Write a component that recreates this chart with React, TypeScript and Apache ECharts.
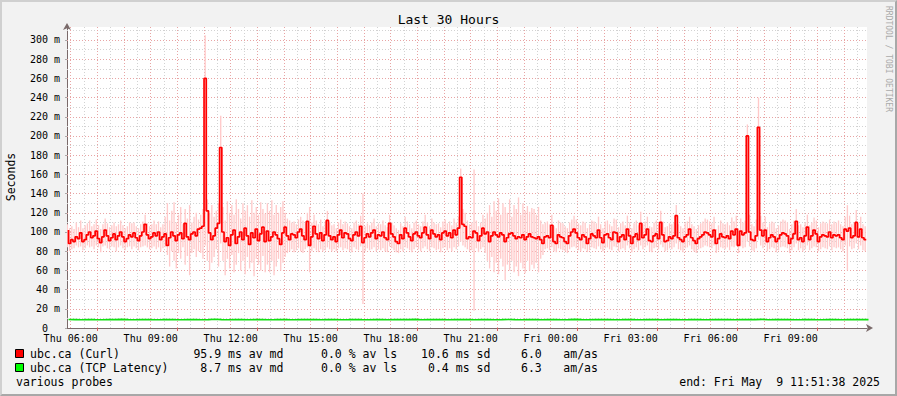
import React, { useEffect, useRef } from "react";
import * as echarts from "echarts";

// ---- time frame (hours since Thu 00:00) ----
const START_HOUR = 5 + 51 / 60 + 38 / 3600; // Thu 05:51:38
const SPAN_HOURS = 30;
const FIRST_SAMPLE_HOUR = 5 + 55 / 60; // Thu 05:55
const STEP_HOURS = 5 / 60;
const TCP_STEP_HOURS = 15 / 60;

// ---- data (milliseconds) ----
const curlMedian = [
  102, 88, 92, 90, 95, 93, 99, 90, 92, 97, 100, 94, 96, 101, 93, 89, 95, 102, 96, 91, 94, 98, 92, 96, 100, 95, 90, 93, 97, 95,
  99, 94, 91, 96, 100, 108, 97, 93, 95, 99, 96, 100, 92, 95, 98, 86, 94, 100, 96, 91, 97, 99, 93, 109, 95, 92, 98, 100, 96, 103,
  104, 106, 260, 122, 99, 92, 96, 104, 109, 188, 100, 90, 94, 86, 97, 102, 88, 95, 100, 92, 104, 96, 87, 99, 94, 103, 91, 98, 105, 90,
  101, 91, 95, 100, 97, 93, 87, 99, 105, 96, 92, 98, 97, 94, 100, 103, 96, 92, 111, 86, 95, 106, 98, 93, 99, 91, 97, 112, 96, 92,
  95, 90, 97, 102, 94, 99, 98, 93, 91, 97, 100, 96, 106, 89, 94, 98, 95, 99, 102, 93, 97, 96, 100, 94, 92, 109, 98, 95, 90, 88,
  97, 93, 104, 99, 95, 91, 98, 100, 96, 94, 99, 105, 97, 93, 102, 98, 95, 97, 92, 99, 101, 96, 99, 94, 102, 97, 104, 157, 108, 106,
  93, 95, 94, 101, 99, 91, 96, 104, 98, 100, 90, 96, 100, 97, 95, 99, 97, 90, 94, 98, 99, 96, 93, 95, 94, 97, 92, 95, 98, 95,
  94, 93, 95, 92, 88, 95, 96, 94, 107, 90, 88, 97, 95, 94, 90, 88, 96, 100, 103, 99, 94, 92, 97, 95, 88, 93, 98, 96, 94, 102,
  94, 89, 97, 98, 94, 92, 100, 99, 90, 95, 97, 92, 103, 96, 88, 95, 98, 92, 109, 94, 97, 103, 91, 90, 96, 98, 93, 110, 97, 90,
  91, 95, 93, 96, 117, 94, 92, 90, 95, 97, 103, 94, 91, 88, 93, 95, 97, 100, 99, 97, 95, 102, 88, 93, 98, 95, 94, 96, 93, 101,
  97, 103, 86, 101, 97, 99, 200, 100, 92, 91, 96, 209, 102, 96, 102, 90, 94, 97, 95, 90, 93, 97, 99, 98, 96, 88, 93, 98, 111, 92,
  94, 90, 96, 105, 92, 96, 102, 98, 90, 95, 97, 96, 95, 100, 94, 97, 96, 97, 94, 92, 103, 101, 104, 94, 96, 110, 95, 103, 94, 92,
];

const curlSmokeLow = [
  84, 80, 82, 83, 86, 84, 85, 81, 83, 86, 84, 85, 82, 86, 84, 79, 85, 86, 83, 82, 85, 84, 80, 84, 86, 83, 81, 84, 85, 82,
  85, 83, 81, 84, 85, 86, 84, 82, 83, 85, 82, 84, 80, 83, 84, 76, 64, 80, 70, 62, 78, 72, 84, 66, 75, 55, 78, 82, 74, 80,
  78, 72, 86, 70, 60, 68, 74, 82, 64, 88, 70, 55, 72, 62, 76, 58, 66, 78, 60, 70, 56, 74, 62, 68, 54, 72, 66, 60, 75, 58,
  66, 58, 70, 55, 64, 72, 60, 68, 74, 78, 80, 82, 79, 81, 83, 80, 78, 82, 84, 58, 80, 83, 81, 79, 82, 80, 81, 84, 82, 80,
  82, 80, 83, 84, 81, 83, 82, 80, 79, 84, 82, 81, 85, 25, 80, 83, 81, 82, 84, 80, 82, 81, 83, 80, 79, 85, 83, 81, 79, 78,
  82, 80, 84, 83, 81, 79, 82, 84, 82, 80, 83, 85, 82, 80, 84, 83, 81, 82, 79, 83, 84, 81, 83, 80, 84, 82, 85, 90, 86, 84,
  82, 80, 81, 18, 83, 79, 82, 84, 78, 70, 62, 74, 58, 68, 56, 72, 64, 50, 66, 60, 70, 58, 64, 54, 68, 62, 57, 70, 60, 66,
  62, 68, 58, 72, 76, 82, 83, 81, 84, 80, 79, 83, 82, 81, 80, 78, 82, 84, 85, 83, 81, 80, 83, 82, 79, 81, 84, 83, 82, 85,
  82, 80, 83, 84, 82, 81, 85, 84, 80, 82, 83, 81, 86, 83, 79, 82, 84, 81, 86, 82, 84, 86, 80, 79, 83, 84, 82, 87, 84, 80,
  81, 83, 82, 84, 88, 82, 81, 79, 83, 84, 86, 82, 80, 78, 82, 83, 84, 86, 85, 84, 83, 86, 78, 81, 84, 83, 82, 84, 81, 85,
  84, 86, 78, 85, 83, 84, 90, 85, 81, 80, 83, 92, 86, 83, 86, 80, 82, 84, 83, 79, 81, 84, 85, 84, 83, 78, 81, 84, 88, 81,
  83, 80, 82, 86, 81, 83, 85, 84, 80, 82, 84, 83, 82, 85, 81, 84, 83, 84, 82, 80, 86, 60, 85, 82, 83, 88, 82, 86, 81, 80,
];

const curlSmokeHigh = [
  108, 104, 106, 103, 110, 105, 112, 104, 107, 109, 112, 106, 108, 113, 107, 103, 108, 114, 109, 105, 107, 110, 106, 108, 112, 107, 104, 106, 110, 109,
  110, 106, 104, 108, 111, 118, 109, 106, 108, 112, 108, 111, 105, 108, 116, 130, 112, 122, 131, 110, 118, 126, 108, 124, 114, 128, 110, 116, 120, 113,
  118, 124, 305, 134, 120, 128, 116, 122, 130, 221, 126, 112, 132, 120, 128, 118, 134, 124, 114, 130, 122, 128, 116, 133, 120, 126, 118, 131, 124, 119,
  130, 122, 133, 118, 128, 120, 126, 132, 120, 114, 112, 110, 111, 108, 113, 116, 112, 109, 120, 126, 110, 118, 112, 108, 113, 106, 111, 122, 110, 107,
  108, 104, 110, 113, 108, 111, 109, 106, 104, 110, 112, 108, 117, 140, 106, 109, 107, 110, 114, 106, 109, 108, 112, 107, 105, 118, 110, 107, 104, 102,
  109, 106, 116, 111, 108, 104, 110, 112, 108, 106, 111, 118, 110, 106, 114, 110, 108, 109, 105, 111, 113, 109, 111, 107, 114, 110, 116, 166, 124, 120,
  112, 108, 110, 165, 112, 106, 110, 118, 114, 120, 128, 116, 132, 122, 135, 118, 130, 126, 120, 134, 116, 128, 124, 136, 118, 130, 122, 127, 121, 125,
  124, 118, 126, 112, 108, 110, 111, 108, 118, 106, 104, 112, 110, 109, 106, 104, 110, 113, 117, 113, 109, 107, 111, 110, 104, 108, 112, 111, 109, 116,
  108, 104, 111, 112, 108, 106, 114, 113, 105, 109, 111, 107, 117, 110, 104, 109, 112, 107, 121, 108, 111, 116, 106, 105, 110, 112, 108, 122, 111, 105,
  106, 109, 108, 110, 128, 108, 106, 104, 109, 111, 116, 108, 106, 103, 107, 109, 111, 114, 113, 111, 109, 116, 103, 107, 112, 109, 108, 110, 107, 115,
  111, 117, 104, 114, 110, 112, 212, 118, 108, 106, 113, 240, 117, 110, 116, 105, 109, 111, 110, 104, 107, 111, 113, 112, 110, 103, 108, 112, 124, 107,
  108, 105, 110, 118, 107, 110, 115, 112, 105, 109, 111, 110, 109, 113, 108, 111, 110, 112, 108, 106, 116, 128, 117, 108, 110, 123, 109, 116, 108, 106,
];

const tcpLatency = [
  8.8, 8.7, 8.6, 8.9, 8.7, 8.6, 8.8, 8.7, 9.0, 8.7, 8.6, 8.7, 8.8, 8.6, 8.7, 8.9, 8.7, 8.6, 8.8, 8.7,
  8.6, 8.7, 9.1, 8.7, 8.6, 8.8, 8.7, 8.6, 8.7, 8.8, 8.6, 8.7, 8.9, 8.7, 8.6, 8.7, 8.8, 8.7, 8.6, 8.7,
  8.8, 8.6, 8.7, 8.9, 8.7, 8.6, 8.8, 8.7, 8.6, 8.7, 8.8, 8.7, 9.0, 8.6, 8.7, 8.8, 8.7, 8.6, 8.7, 8.8,
  8.7, 8.6, 8.8, 8.7, 8.6, 8.7, 8.9, 8.7, 8.6, 8.8, 8.7, 8.6, 8.7, 8.8, 8.6, 8.7, 9.0, 8.7, 8.6, 8.7,
  8.8, 8.7, 8.6, 8.7, 8.9, 8.7, 8.6, 8.8, 8.7, 8.6, 8.7, 8.8, 8.6, 8.7, 8.9, 8.7, 8.6, 8.7, 8.8, 8.7,
  8.6, 8.7, 8.8, 8.7, 9.0, 8.6, 8.7, 8.8, 8.7, 8.6, 8.7, 8.9, 8.7, 8.6, 8.8, 8.7, 8.6, 8.7, 8.8, 8.7, 8.7,
];

// ---- axes / grid ----
const Y_MAX = 313.5;
const xLabelHours = [6, 9, 12, 15, 18, 21, 24, 27, 30, 33];
const xLabelTexts = ["Thu 06:00", "Thu 09:00", "Thu 12:00", "Thu 15:00", "Thu 18:00", "Thu 21:00", "Fri 00:00", "Fri 03:00", "Fri 06:00", "Fri 09:00"];
const xTickHours = [7, 10, 13, 16, 19, 22, 25, 28, 31, 34];
const vGridMajor = [6, 7, 8, 9, 10, 11, 12, 13, 14, 15, 16, 17, 18, 19, 20, 21, 22, 23, 24, 25, 26, 27, 28, 29, 30, 31, 32, 33, 34, 35];
const vGridMinor = [6.5, 7.5, 8.5, 9.5, 10.5, 11.5, 12.5, 13.5, 14.5, 15.5, 16.5, 17.5, 18.5, 19.5, 20.5, 21.5, 22.5, 23.5, 24.5, 25.5, 26.5, 27.5, 28.5, 29.5, 30.5, 31.5, 32.5, 33.5, 34.5, 35.5];
const hGridMajor = [20, 40, 60, 80, 100, 120, 140, 160, 180, 200, 220, 240, 260, 280, 300];
const hGridMinor = [10, 30, 50, 70, 90, 110, 130, 150, 170, 190, 210, 230, 250, 270, 290, 310];

// ---- texts ----
const TITLE = "Last 30 Hours";
const Y_TITLE = "Seconds";
const WATERMARK = "RRDTOOL / TOBI OETIKER";
const legendNames = ["ubc.ca (Curl)", "ubc.ca (TCP Latency)"];
const legendColors = ["#ff0000", "#00ff00"];
const legendMedian = ["95.9", "8.7"];
const legendLoss = ["0.0", "0.0"];
const legendSd = ["10.6", "0.4"];
const legendAmAs = ["6.0", "6.3"];
const FOOT_LEFT = "various probes";
const FOOT_RIGHT = "end: Fri May\u00a0\u00a09 11:51:38 2025";

const FONT = '"DejaVu Sans Mono", monospace';
const MAJOR_GRID = "#e8a4a4";
const MINOR_GRID = "#d2d2d2";
const SMOKE = "#ffc9c9";

function txt(text: string, x: number, y: number, size: number, align: string, extra: any = {}) {
  return {
    type: "text",
    x,
    y,
    silent: true,
    ...extra,
    style: {
      text,
      fill: extra.fill || "#000",
      fontFamily: FONT,
      fontSize: size,
      align,
      textAlign: align,
      verticalAlign: "middle",
      textVerticalAlign: "middle",
    },
  };
}

export default function App() {
  const ref = useRef<HTMLDivElement>(null);

  useEffect(() => {
    if (!ref.current) return;
    const chart = echarts.init(ref.current, null, { renderer: "svg", width: 897, height: 396 });

    const medianData = curlMedian.map((v, i) => [FIRST_SAMPLE_HOUR + i * STEP_HOURS, v]);
    const smokeData = curlSmokeLow.map((lo, i) => [FIRST_SAMPLE_HOUR + i * STEP_HOURS, lo, curlSmokeHigh[i]]);
    const tcpData = tcpLatency.map((v, i) => [FIRST_SAMPLE_HOUR + i * TCP_STEP_HOURS, v]);

    const dotted = [1, 2];
    const gridLines = [
      ...vGridMinor.map((h) => ({ xAxis: h, lineStyle: { color: MINOR_GRID, type: dotted, width: 1 } })),
      ...hGridMinor.map((v) => ({ yAxis: v, lineStyle: { color: MINOR_GRID, type: dotted, width: 1 } })),
      ...vGridMajor.map((h) => ({ xAxis: h, lineStyle: { color: MAJOR_GRID, type: dotted, width: 1 } })),
      ...hGridMajor.map((v) => ({ yAxis: v, lineStyle: { color: MAJOR_GRID, type: dotted, width: 1 } })),
    ];

    const graphics: any[] = [
      txt(TITLE, 448.5, 19, 13, "center"),
      txt(Y_TITLE, 10.5, 177, 11.5, "center", { rotation: Math.PI / 2 }),
      txt(WATERMARK, 888, 59, 8, "center", { rotation: -Math.PI / 2, fill: "#aaaaaa" }),
      txt(FOOT_LEFT, 16, 382, 11.5, "left"),
      txt(FOOT_RIGHT, 880, 382, 11.5, "right"),
    ];
    legendNames.forEach((name, i) => {
      const y = 354 + i * 14;
      graphics.push({
        type: "rect",
        silent: true,
        shape: { x: 15.5, y: y - 4.5, width: 8, height: 8 },
        style: { fill: legendColors[i], stroke: "#000", lineWidth: 1 },
      });
      graphics.push(txt(name, 30, y, 11.5, "left"));
      graphics.push(txt(legendMedian[i] + " ms av md", 228 - (legendMedian[i].length + 1) * 6.92, y, 11.5, "left"));
      graphics.push(txt(legendLoss[i] + " % av ls", 321, y, 11.5, "left"));
      graphics.push(txt(legendSd[i] + " ms sd", 455.7 - (legendSd[i].length + 1) * 6.92, y, 11.5, "left"));
      graphics.push(txt(legendAmAs[i], 521, y, 11.5, "left"));
      graphics.push(txt("am/as", 563.3, y, 11.5, "left"));
    });

    chart.setOption({
      animation: false,
      backgroundColor: "transparent",
      grid: {
        left: 67,
        top: 27,
        width: 800,
        height: 301,
        show: true,
        backgroundColor: "#ffffff",
        borderWidth: 0,
        containLabel: false,
      },
      xAxis: {
        type: "value",
        min: START_HOUR,
        max: START_HOUR + SPAN_HOURS,
        splitLine: { show: false },
        axisLine: {
          show: true,
          onZero: false,
          lineStyle: { color: "#7a6a6a", width: 1 },
          symbol: ["none", "arrow"],
          symbolSize: [6, 7],
          symbolOffset: [0, 6],
        },
        axisTick: { show: true, customValues: xTickHours, length: 3, lineStyle: { color: "#e06060" } },
        axisLabel: {
          customValues: xLabelHours,
          formatter: (v: number) => {
            const idx = xLabelHours.findIndex((h) => Math.abs(h - v) < 1e-6);
            return idx >= 0 ? xLabelTexts[idx] : "";
          },
          fontFamily: FONT,
          fontSize: 10,
          color: "#000",
          margin: 5,
          showMinLabel: true,
          showMaxLabel: true,
        },
      },
      yAxis: {
        type: "value",
        min: 0,
        max: Y_MAX,
        interval: 20,
        splitLine: { show: false },
        axisLine: {
          show: true,
          lineStyle: { color: "#7a6a6a", width: 1 },
          symbol: ["none", "arrow"],
          symbolSize: [6, 7],
          symbolOffset: [0, 4],
        },
        axisTick: { show: true, length: 2, lineStyle: { color: "#aaaaaa" } },
        axisLabel: {
          formatter: (v: number) => {
            if (Math.abs(v % 20) > 1e-6) return "";
            return v === 0 ? "0\u00a0\u00a0" : v + " m";
          },
          fontFamily: FONT,
          fontSize: 10,
          color: "#000",
          margin: 7,
        },
      },
      series: [
        {
          type: "line",
          name: "grid",
          data: [],
          silent: true,
          z: 1,
          markLine: {
            silent: true,
            z: 1,
            symbol: ["none", "none"],
            label: { show: false },
            emphasis: { disabled: true },
            data: gridLines,
          },
        },
        {
          type: "custom",
          name: "smoke",
          z: 2,
          silent: true,
          clip: true,
          data: smokeData,
          encode: { x: 0, y: [1, 2] },
          renderItem: (params: any, api: any) => {
            const t = api.value(0);
            const lo = api.value(1);
            const hi = api.value(2);
            const top = api.coord([t, hi]);
            const bot = api.coord([t, lo]);
            const w = api.size([STEP_HOURS, 0])[0];
            return {
              type: "rect",
              shape: { x: top[0] - w * 0.8, y: top[1], width: w * 0.6, height: bot[1] - top[1] },
              style: { fill: SMOKE },
            };
          },
        },
        {
          type: "line",
          name: legendNames[1],
          data: tcpData,
          step: "start",
          showSymbol: false,
          symbol: "none",
          z: 3,
          silent: true,
          lineStyle: { color: "#10e010", width: 1.6 },
        },
        {
          type: "line",
          name: legendNames[0],
          data: medianData,
          step: "start",
          showSymbol: false,
          symbol: "none",
          z: 4,
          silent: true,
          lineStyle: { color: "#ff0000", width: 1.7 },
        },
      ],
      graphic: graphics,
    });

    return () => chart.dispose();
  }, []);

  return (
    <div
      style={{
        position: "fixed",
        left: 0,
        top: 0,
        width: 897,
        height: 396,
        background: "#f2f2f2",
        overflow: "hidden",
      }}
    >
      <div ref={ref} style={{ position: "absolute", left: 0, top: 0, width: 897, height: 396 }} />
      <div
        style={{
          position: "absolute",
          left: 0,
          top: 0,
          width: 897,
          height: 396,
          boxSizing: "border-box",
          borderTop: "2px solid #d0d0d0",
          borderLeft: "2px solid #d0d0d0",
          borderRight: "2px solid #a8a8a8",
          borderBottom: "2px solid #a8a8a8",
          pointerEvents: "none",
        }}
      />
    </div>
  );
}
